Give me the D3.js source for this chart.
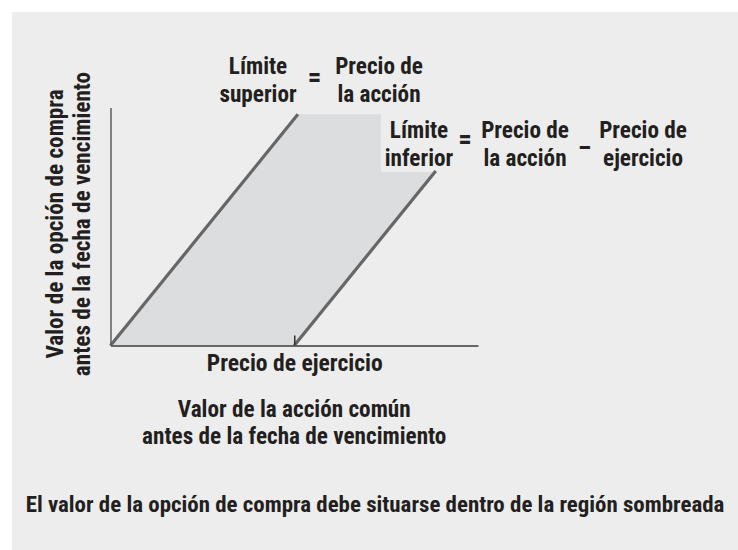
<!DOCTYPE html>
<html>
<head>
<meta charset="utf-8">
<script src="https://cdn.jsdelivr.net/npm/d3@7"></script>
<style>
  html, body { margin: 0; padding: 0; background: #ffffff; }
  svg { display: block; }
  text { font-family: "Liberation Sans Narrow", "Roboto Condensed", "DejaVu Sans Condensed", sans-serif; font-weight: bold; fill: #231f20; }
</style>
</head>
<body>
<script>
// ---- data ----
const stockDomain = [0, 2];          // value of common stock (in units of strike price)
const optionDomain = [0, 1.05];      // value of call option
const strikeTicks = [1];
const strikeTickLabels = ["Precio de ejercicio"];
const upperBound = [ {s: 0, v: 0}, {s: 1.02, v: 1.02} ];      // option = stock price
const lowerBound = [ {s: 1, v: 0}, {s: 1.77, v: 0.77} ];      // option = stock price - strike
const shadedRegion = [ {s: 0, v: 0}, {s: 1.02, v: 1.02}, {s: 2.02, v: 1.02}, {s: 1, v: 0} ];
const yTitle = ["Valor de la opción de compra", "antes de la fecha de vencimiento"];
const xTitle = ["Valor de la acción común", "antes de la fecha de vencimiento"];
const upperLabel = { left: ["Límite", "superior"], op: "=", right: [["Precio de", "la acción"]] };
const lowerLabel = { left: ["Límite", "inferior"], ops: ["=", "_"], right: [["Precio de", "la acción"], ["Precio de", "ejercicio"]] };
const caption = "El valor de la opción de compra debe situarse dentro de la región sombreada";

// ---- layout ----
const W = 738, H = 550;
const panelBg = "#ededed";
const FS = 23.2;
const svg = d3.select("body").append("svg").attr("width", W).attr("height", H);
svg.append("rect").attr("x", 12).attr("y", 12).attr("width", W - 12).attr("height", H - 12).attr("fill", panelBg);

const x = d3.scaleLinear().domain(stockDomain).range([110.5, 478]);
const y = d3.scaleLinear().domain(optionDomain).range([345.5, 107.5]);

// shaded region
svg.append("path")
  .datum(shadedRegion)
  .attr("d", d3.line().x(d => x(d.s)).y(d => y(d.v)))
  .attr("fill", "#dcdddf");

// label background for lower bound (covers top-right of shaded region)
svg.append("rect").attr("x", 381).attr("y", 108).attr("width", 330).attr("height", 64).attr("fill", panelBg);

// bound lines
const line = d3.line().x(d => x(d.s)).y(d => y(d.v));
[upperBound, lowerBound].forEach(b => {
  svg.append("path").datum(b).attr("d", line)
    .attr("fill", "none").attr("stroke", "#666666").attr("stroke-width", 3.2);
});

// y axis
const yAxis = svg.append("g").attr("transform", `translate(${x(0)},0)`)
  .call(d3.axisLeft(y).tickValues([]).tickSizeOuter(0));
yAxis.select(".domain").attr("stroke", "#555555").attr("stroke-width", 1.4);

// x axis
const xAxis = svg.append("g").attr("transform", `translate(0,${y(0)})`)
  .call(d3.axisBottom(x).tickValues(strikeTicks).tickSizeInner(-10).tickSizeOuter(0)
        .tickFormat((d, i) => strikeTickLabels[i]).tickPadding(9));
xAxis.select(".domain").attr("stroke", "#666666").attr("stroke-width", 2.2);
xAxis.selectAll(".tick line").attr("stroke", "#333333").attr("stroke-width", 1.5);
xAxis.selectAll(".tick text").attr("font-size", 23.6).attr("fill", "#231f20")
  .attr("font-family", null);

// x title
svg.append("text").attr("text-anchor", "middle").attr("font-size", FS)
  .selectAll("tspan").data(xTitle).join("tspan")
  .attr("x", x(1)).attr("y", (d, i) => 417 + i * 27).text(d => d);

// y title
const yt = svg.append("text").attr("text-anchor", "middle").attr("font-size", FS)
  .attr("transform", "translate(0,224) rotate(-90)");
yt.selectAll("tspan").data(yTitle).join("tspan")
  .attr("x", 0).attr("y", (d, i) => 63 + i * 27).text(d => d);

// helper for a two-line block
function block(cx, baseline, lines) {
  const t = svg.append("text").attr("text-anchor", "middle").attr("font-size", FS);
  t.selectAll("tspan").data(lines).join("tspan")
    .attr("x", cx).attr("y", (d, i) => baseline + i * 28).text(d => d);
}
// upper label
block(258, 73.5, upperLabel.left);
svg.append("text").attr("x", 314.5).attr("y", 86).attr("text-anchor", "middle").attr("font-size", 27).text(upperLabel.op);
block(379, 73.5, upperLabel.right[0]);

// lower label
block(419, 137.5, lowerLabel.left);
svg.append("text").attr("x", 465).attr("y", 148).attr("text-anchor", "middle").attr("font-size", 27).text(lowerLabel.ops[0]);
block(525, 137.5, lowerLabel.right[0]);
svg.append("text").attr("x", 585).attr("y", 146).attr("text-anchor", "middle").attr("font-size", 27).text(lowerLabel.ops[1]);
block(643, 137.5, lowerLabel.right[1]);

// caption
svg.append("text").attr("x", 375).attr("y", 511.5).attr("text-anchor", "middle").attr("font-size", 22.9).text(caption);
</script>
</body>
</html>
